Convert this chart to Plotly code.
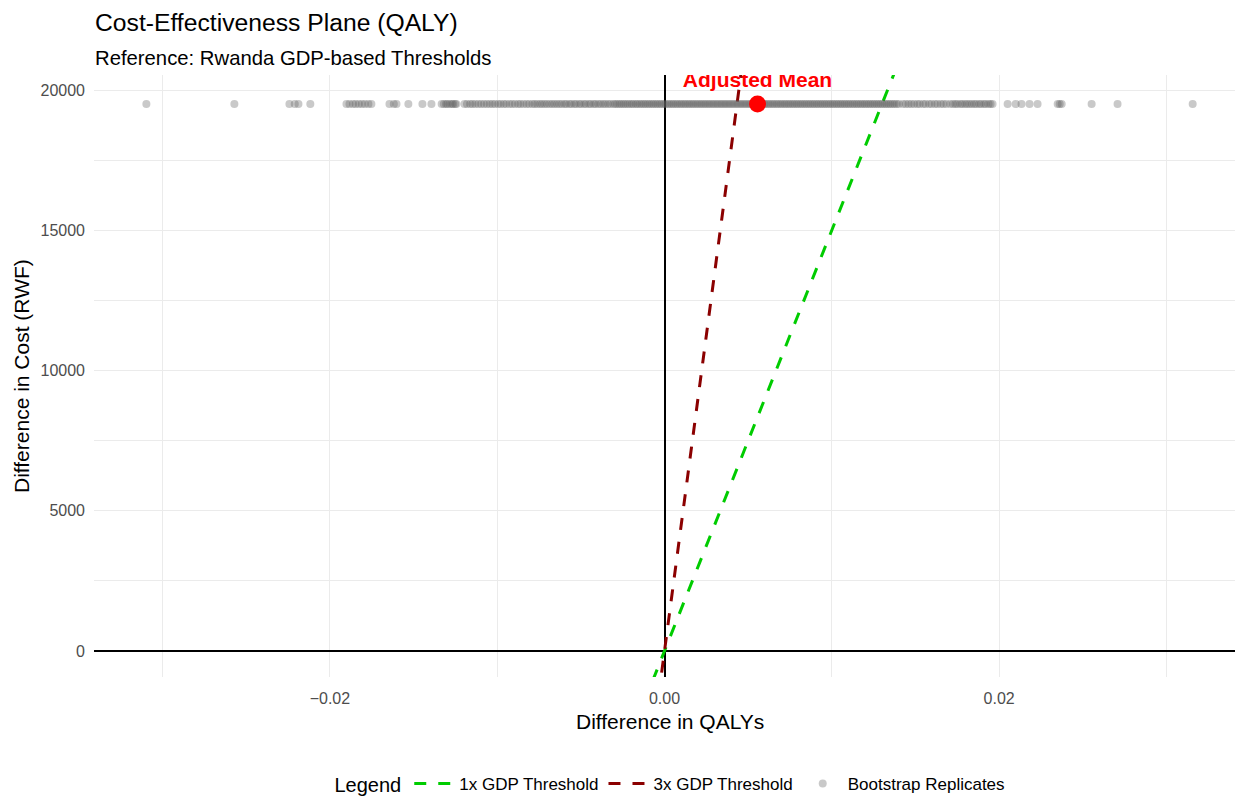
import plotly.graph_objects as go

# ---------------- data ----------------
boot_qaly = [
    -0.03097, -0.02571, -0.02242, -0.02210, -0.02188, -0.02117,
    -0.01901, -0.01883, -0.01862, -0.01846, -0.01827, -0.01809, -0.01791, -0.01770, -0.01752,
    -0.01644, -0.01618, -0.01602, -0.01531, -0.01447, -0.01393,
    -0.01332, -0.01319, -0.01306, -0.01297, -0.01283, -0.01271, -0.01263, -0.01251, -0.01244,
    -0.01196, -0.01181, -0.01162, -0.01148, -0.01131, -0.01113, -0.01096, -0.01079, -0.01062,
    -0.01045, -0.01029, -0.01013, -0.00994, -0.00979, -0.00961, -0.00946, -0.00927, -0.00911,
    -0.00894, -0.00875, -0.00861, -0.00843, -0.00825, -0.00809, -0.00790, -0.00776, -0.00761,
    -0.00745, -0.00732, -0.00717, -0.00703, -0.00687, -0.00672, -0.00658, -0.00643, -0.00628,
    -0.00614, -0.00597, -0.00586, -0.00568, -0.00557, -0.00539, -0.00528, -0.00510, -0.00499,
    -0.00481, -0.00470, -0.00452, -0.00441, -0.00423, -0.00412, -0.00395, -0.00382, -0.00366,
    -0.00353, -0.00337, -0.00323, -0.00306, -0.00294,
    -0.00282, -0.00269, -0.00258, -0.00245, -0.00234, -0.00221, -0.00209, -0.00196, -0.00186,
    -0.00171, -0.00162, -0.00148, -0.00137, -0.00124, -0.00113, -0.00100, -0.00089, -0.00076,
    -0.00065, -0.00052, -0.00041, -0.00028, -0.00017, -0.00004, 0.00007, 0.00020, 0.00031,
    0.00044, 0.00055, 0.00068, 0.00079, 0.00092, 0.00103, 0.00116, 0.00127, 0.00140, 0.00151,
    0.00164, 0.00175, 0.00188, 0.00199, 0.00212, 0.00223, 0.00236, 0.00247, 0.00260, 0.00271,
    0.00284, 0.00295, 0.00308, 0.00319, 0.00332, 0.00343, 0.00356, 0.00367, 0.00380, 0.00391,
    0.00404, 0.00415, 0.00428, 0.00439, 0.00452, 0.00463, 0.00476, 0.00487, 0.00500, 0.00511,
    0.00524, 0.00535, 0.00548, 0.00559, 0.00572, 0.00583, 0.00596, 0.00607, 0.00620, 0.00631,
    0.00644, 0.00655, 0.00668, 0.00679, 0.00692, 0.00703, 0.00716, 0.00727, 0.00740, 0.00751,
    0.00764, 0.00775, 0.00788, 0.00799, 0.00812, 0.00823, 0.00836, 0.00847, 0.00860, 0.00871,
    0.00884, 0.00895, 0.00908, 0.00919, 0.00932, 0.00943, 0.00956, 0.00967, 0.00980, 0.00991,
    0.01004, 0.01015, 0.01028, 0.01039, 0.01052, 0.01063, 0.01076, 0.01087, 0.01100, 0.01111,
    0.01124, 0.01135, 0.01148, 0.01159, 0.01172, 0.01183, 0.01196, 0.01207, 0.01220, 0.01231,
    0.01244, 0.01255, 0.01268, 0.01279, 0.01292, 0.01303, 0.01316, 0.01327, 0.01340, 0.01351,
    0.01364, 0.01375, 0.01388, 0.01401,
    0.01425, 0.01442, 0.01459, 0.01475, 0.01492, 0.01511, 0.01525, 0.01546, 0.01560, 0.01581,
    0.01596, 0.01616, 0.01631, 0.01651, 0.01667, 0.01685, 0.01708,
    0.01725, 0.01739, 0.01751, 0.01769, 0.01780, 0.01796, 0.01809, 0.01823, 0.01837, 0.01852,
    0.01864, 0.01881, 0.01892, 0.01909, 0.01920, 0.01937, 0.01949, 0.01961,
    0.02051, 0.02099, 0.02134, 0.02182, 0.02230, 0.02350, 0.02362, 0.02374,
    0.02553, 0.02708, 0.03157,
]
boot_cost_value = 19500
boot_cost = [boot_cost_value] * len(boot_qaly)

mean_qaly = [0.00556]
mean_cost = [19500]
mean_label = ["Adjusted Mean"]
label_cost = [20300]

gdp_threshold_1x = 1500000   # RWF per QALY
gdp_threshold_3x = 4500000

x_range = [-0.0341, 0.0341]
y_range = [-927, 20535]

x_ticks = [-0.02, 0.00, 0.02]
x_tick_text = ["\u22120.02", "0.00", "0.02"]
y_ticks = [0, 5000, 10000, 15000, 20000]
y_tick_text = ["0", "5000", "10000", "15000", "20000"]

title = "Cost-Effectiveness Plane (QALY)"
subtitle = "Reference: Rwanda GDP-based Thresholds"
x_title = "Difference in QALYs"
y_title = "Difference in Cost (RWF)"

FONT = "Liberation Sans, Arial, sans-serif"
GRID = "#EBEBEB"

fig = go.Figure()

# threshold lines spanning the x range, clipped to the panel
for thr, name, col in [(gdp_threshold_1x, "1x GDP Threshold", "#00CC00"),
                       (gdp_threshold_3x, "3x GDP Threshold", "#8B0000")]:
    fig.add_trace(go.Scatter(
        x=x_range, y=[thr * x_range[0], thr * x_range[1]],
        mode="lines", name=name,
        line=dict(color=col, width=3, dash="12px,12px"),
        hoverinfo="skip",
    ))

fig.add_trace(go.Scatter(
    x=boot_qaly, y=boot_cost, mode="markers", name="Bootstrap Replicates",
    marker=dict(size=8, color="rgba(90,90,90,0.33)", line=dict(width=0)),
))

fig.add_trace(go.Scatter(
    x=mean_qaly, y=mean_cost, mode="markers", showlegend=False,
    marker=dict(size=17, color="#FF0000", line=dict(width=0)),
))

fig.add_trace(go.Scatter(
    x=mean_qaly, y=label_cost, mode="text", text=mean_label, showlegend=False,
    textposition="middle center", cliponaxis=True,
    textfont=dict(family=FONT, size=21, color="#FF0000", weight="bold"),
))

fig.update_layout(
    width=1235, height=798,
    margin=dict(l=94, r=0, t=75, b=121, autoexpand=False),
    paper_bgcolor="white", plot_bgcolor="white",
    font=dict(family=FONT, color="#000000"),
    showlegend=True,
    legend=dict(
        orientation="h", x=0.5 + 7 / 1141, xanchor="center",
        y=(677 - 784) / 602, yanchor="middle",
        title=dict(text="Legend", font=dict(size=20, color="#000000"), side="left"),
        font=dict(size=17, color="#000000"),
        itemwidth=40, traceorder="normal",
    ),
    annotations=[
        dict(text=title, xref="paper", yref="paper", x=0.0, y=(677 - 22) / 602,
             xanchor="left", yanchor="middle", showarrow=False, xshift=-1,
             font=dict(size=24.7, color="#000000")),
        dict(text=subtitle, xref="paper", yref="paper", x=0.0, y=(677 - 58) / 602,
             xanchor="left", yanchor="middle", showarrow=False, xshift=-1,
             font=dict(size=20.3, color="#000000")),
        dict(text=x_title, xref="paper", yref="paper", x=0.5, y=(677 - 721) / 602,
             xanchor="center", yanchor="middle", showarrow=False, xshift=5,
             font=dict(size=21, color="#000000")),
        dict(text=y_title, xref="paper", yref="paper", x=(21 - 94) / 1141, y=0.5,
             xanchor="center", yanchor="middle", showarrow=False, textangle=-90,
             font=dict(size=21, color="#000000")),
    ],
)

fig.update_xaxes(
    range=x_range, tickvals=x_ticks, ticktext=x_tick_text,
    showgrid=True, gridcolor=GRID, gridwidth=1.2,
    minor=dict(dtick=0.01, tick0=0, showgrid=True, gridcolor=GRID, gridwidth=0.9),
    zeroline=True, zerolinecolor="#000000", zerolinewidth=1.5,
    showline=False, ticks="", tickfont=dict(size=16, color="#4D4D4D"),
    ticklabelstandoff=10,
)
fig.update_yaxes(
    range=y_range, tickvals=y_ticks, ticktext=y_tick_text,
    showgrid=True, gridcolor=GRID, gridwidth=1.2,
    minor=dict(dtick=2500, tick0=0, showgrid=True, gridcolor=GRID, gridwidth=0.9),
    zeroline=True, zerolinecolor="#000000", zerolinewidth=1.5,
    showline=False, ticks="", tickfont=dict(size=16, color="#4D4D4D"),
    ticklabelstandoff=8,
)

fig.write_html("out.html")
